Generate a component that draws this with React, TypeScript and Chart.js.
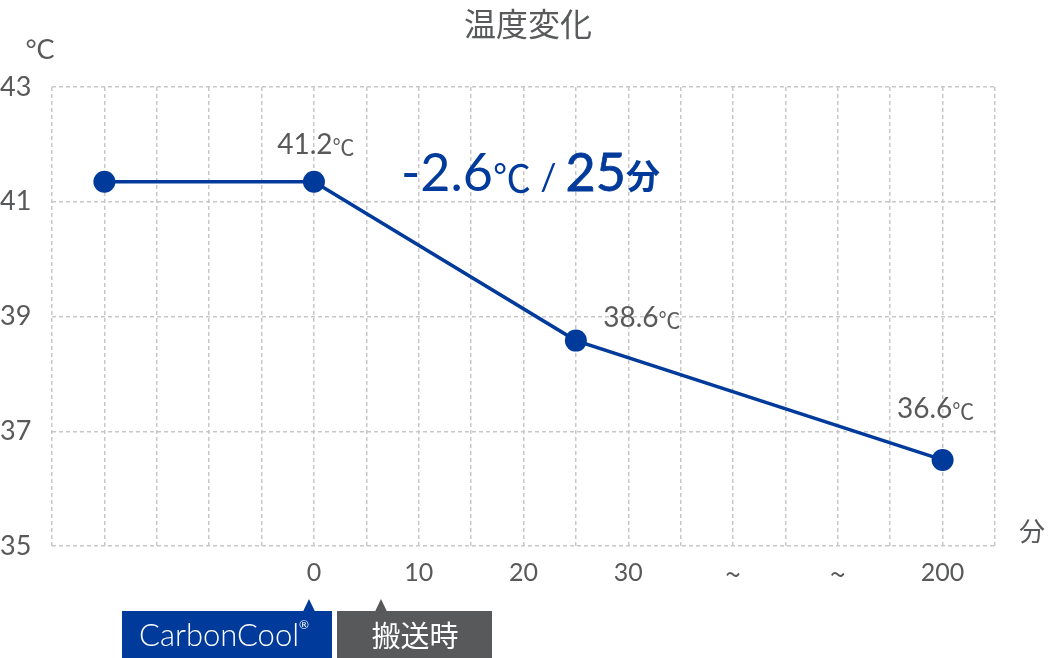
import { useEffect, useRef } from 'react';
import { Chart, registerables } from 'chart.js';

Chart.register(...registerables);

// x runs on an index axis: 5 = 0 min, 10 = 25 min, 17 = 200 min
const timeSlots = [1, 5, 10, 17];
const temperatures = [41.35, 41.35, 38.58, 36.5];
const pointLabels = ['', '41.2', '38.6', '36.6'];
const xTickLabels = ['', '', '', '', '', '0', '', '10', '', '20', '', '30', '', '~', '', '~', '', '200', ''];

const LATIN = "Lato, 'Noto Sans', sans-serif";
const CJK = "'Noto Sans CJK JP', sans-serif";
const GRAY = '#58595b';
const BLUE = '#003a9a';

// where each point label sits relative to its point (centre x, baseline y)
const labelOffsets = [[0, 0], [2, -28], [66, -14], [-7, -42]];

type Run = { text: string; font: string; dy?: number; stroke?: number };

function drawRuns(ctx: CanvasRenderingContext2D, runs: Run[], x: number, y: number, align: 'left' | 'center', color: string) {
  ctx.fillStyle = color;
  ctx.strokeStyle = color;
  ctx.textAlign = 'left';
  ctx.textBaseline = 'alphabetic';
  const widths = runs.map(r => {
    ctx.font = r.font;
    return ctx.measureText(r.text).width;
  });
  const total = widths.reduce((a, b) => a + b, 0);
  let cx = align === 'center' ? x - total / 2 : x;
  runs.forEach((r, i) => {
    ctx.font = r.font;
    ctx.fillText(r.text, cx, y + (r.dy || 0));
    if (r.stroke) {
      ctx.lineWidth = r.stroke;
      ctx.strokeText(r.text, cx, y + (r.dy || 0));
    }
    cx += widths[i];
  });
}

const overlayPlugin = {
  id: 'overlay',
  afterDraw(chart: Chart) {
    const ctx = chart.ctx;
    const meta = chart.getDatasetMeta(0);
    ctx.save();

    // title and axis units
    ctx.fillStyle = GRAY;
    ctx.textAlign = 'center';
    ctx.textBaseline = 'middle';
    ctx.font = `32px ${CJK}`;
    ctx.fillText('温度変化', 528, 24);
    ctx.font = `27px ${LATIN}`;
    ctx.fillText('°C', 40, 50);
    ctx.font = `26px ${CJK}`;
    ctx.fillText('分', 1032, 531);

    // value labels next to the points
    meta.data.forEach((pt, i) => {
      if (!pointLabels[i]) return;
      const [dx, dy] = labelOffsets[i];
      drawRuns(ctx, [
        { text: pointLabels[i], font: `28px ${LATIN}` },
        { text: '℃', font: `22px ${CJK}`, dy: 1 },
      ], pt.x + dx, pt.y + dy, 'center', GRAY);
    });

    // rate annotation
    drawRuns(ctx, [
      { text: '-2.6', font: `400 52px ${LATIN}` },
      { text: '℃', font: `38px ${CJK}`, dy: 1 },
      { text: ' / ', font: `400 36px ${LATIN}`, dy: -1 },
      { text: '25', font: `400 52px ${LATIN}`, stroke: 0.8 },
      { text: '分', font: `700 34px ${CJK}`, dy: -2 },
    ], 401, 191, 'left', BLUE);

    // callout boxes under the x axis
    const box = (x: number, w: number, tip: number, color: string) => {
      ctx.fillStyle = color;
      ctx.fillRect(x, 611, w, 47);
      ctx.beginPath();
      ctx.moveTo(tip - 6, 611.5);
      ctx.lineTo(tip, 599);
      ctx.lineTo(tip + 6, 611.5);
      ctx.closePath();
      ctx.fill();
    };
    box(122, 210, 309, BLUE);
    box(337, 155, 381, GRAY);

    drawRuns(ctx, [
      { text: 'CarbonCool', font: `300 31px ${LATIN}` },
      { text: '®', font: `12px ${LATIN}`, dy: -17 },
    ], 224, 646, 'center', '#ffffff');
    ctx.fillStyle = '#ffffff';
    ctx.textAlign = 'center';
    ctx.textBaseline = 'middle';
    ctx.font = `29px ${CJK}`;
    ctx.fillText('搬送時', 415, 636);

    ctx.restore();
  },
};

export default function App() {
  const canvasRef = useRef<HTMLCanvasElement>(null);
  const chartRef = useRef<Chart | null>(null);

  useEffect(() => {
    if (!canvasRef.current) return;
    if (chartRef.current) chartRef.current.destroy();

    chartRef.current = new Chart(canvasRef.current, {
      type: 'line',
      data: {
        datasets: [{
          label: '温度',
          data: timeSlots.map((x, i) => ({ x, y: temperatures[i] })),
          borderColor: BLUE,
          borderWidth: 3.5,
          backgroundColor: BLUE,
          pointBackgroundColor: BLUE,
          pointBorderWidth: 0,
          pointRadius: 11,
          tension: 0,
          clip: false,
        }],
      },
      options: {
        animation: false,
        responsive: true,
        maintainAspectRatio: false,
        layout: { padding: { top: 87, right: 53, left: 0, bottom: 0 } },
        plugins: {
          legend: { display: false },
          title: { display: false },
          tooltip: { enabled: false },
        },
        scales: {
          x: {
            type: 'linear',
            min: 0,
            max: 18,
            afterFit: (scale: any) => { scale.height = 112; },
            border: { display: false, dash: [4, 3] },
            grid: { color: '#c8c8c8', lineWidth: 1.5, drawTicks: false },
            ticks: {
              stepSize: 1,
              autoSkip: false,
              maxRotation: 0,
              padding: 12,
              color: GRAY,
              font: (c: any) => ({
                family: xTickLabels[Number(c.tick?.value)] === '~' ? CJK : LATIN,
                size: xTickLabels[Number(c.tick?.value)] === '~' ? 28 : 25,
              }),
              callback: (v: any) => xTickLabels[Number(v)] ?? '',
            },
          },
          y: {
            min: 35,
            max: 43,
            afterFit: (scale: any) => { scale.width = 52; },
            border: { display: false, dash: [4, 3] },
            grid: { color: '#c8c8c8', lineWidth: 1.5, drawTicks: false },
            ticks: {
              stepSize: 2,
              crossAlign: 'far',
              padding: 0,
              color: GRAY,
              font: { family: LATIN, size: 27 },
            },
          },
        },
      },
      plugins: [overlayPlugin],
    });

    return () => {
      if (chartRef.current) {
        chartRef.current.destroy();
        chartRef.current = null;
      }
    };
  }, []);

  return (
    <div style={{ position: 'fixed', left: 0, top: 0, width: 1048, height: 658, background: '#fff' }}>
      <canvas ref={canvasRef}></canvas>
    </div>
  );
}
